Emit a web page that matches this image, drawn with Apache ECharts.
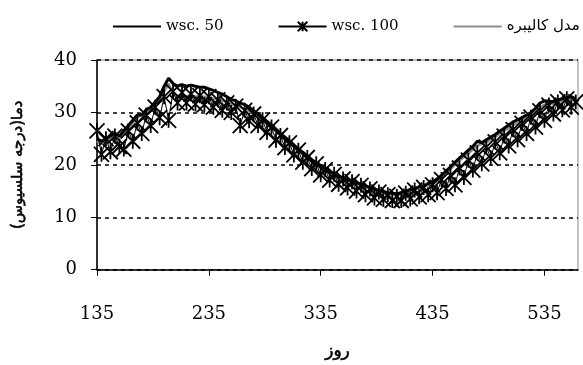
<!DOCTYPE html>
<html>
<head>
<meta charset="utf-8">
<script src="https://cdn.jsdelivr.net/npm/echarts@6/dist/echarts.min.js"></script>
<style>
  html, body { margin: 0; padding: 0; background: #fff; }
  #chart { width: 583px; height: 365px; }
</style>
</head>
<body>
<div id="chart"></div>
<script>
// روز (sampled every 4 days)
const days = [135, 139, 143, 147, 151, 155, 159, 163, 167, 171, 175, 179, 183, 187, 191, 195, 199,
  203, 207, 211, 215, 219, 223, 227, 231, 235, 239, 243, 247, 251, 255, 259, 263, 267, 271, 275,
  279, 283, 287, 291, 295, 299, 303, 307, 311, 315, 319, 323, 327, 331, 335, 339, 343, 347, 351,
  355, 359, 363, 367, 371, 375, 379, 383, 387, 391, 395, 399, 403, 407, 411, 415, 419, 423, 427,
  431, 435, 439, 443, 447, 451, 455, 459, 463, 467, 471, 475, 479, 483, 487, 491, 495, 499, 503,
  507, 511, 515, 519, 523, 527, 531, 535, 539, 543, 547, 551, 555, 559, 563]

const wsc50 = [25.0, 24.5, 25.0, 25.5, 26.0, 25.5, 26.5, 27.5, 28.5, 29.5, 29.5, 30.5, 31.0, 32.0,
  33.0, 35.0, 36.5, 35.5, 35.0, 35.3, 35.0, 35.2, 35.0, 34.8, 34.8, 34.5, 34.2, 33.8, 33.5, 33.0,
  32.5, 32.2, 31.8, 31.5, 31.0, 30.3, 29.8, 29.0, 28.3, 27.6, 26.8, 26.0, 25.3, 24.6, 23.8, 23.0,
  22.4, 21.7, 21.0, 20.4, 19.8, 19.3, 18.8, 18.3, 17.9, 17.5, 17.2, 16.9, 16.6, 16.3, 16.0, 15.7,
  15.4, 15.1, 14.9, 14.7, 14.6, 14.5, 14.7, 15.0, 15.3, 15.5, 15.8, 16.0, 16.4, 16.8, 17.3, 18.0,
  18.8, 19.6, 20.5, 21.3, 22.0, 22.8, 23.5, 24.5, 24.2, 24.8, 25.3, 25.8, 26.4, 27.0, 27.6, 28.2,
  28.6, 29.0, 29.5, 30.0, 30.8, 31.8, 32.2, 32.2, 32.0, 32.4, 32.6, 32.8, 33.0, 32.6]

const wsc100 = [26.5, 22.0, 25.0, 22.5, 25.5, 23.5, 23.0, 26.5, 24.5, 28.0, 26.0, 29.5, 27.5, 31.0,
  29.0, 33.0, 28.5, 34.0, 31.8, 33.8, 31.8, 33.5, 31.6, 33.2, 31.5, 33.0, 31.0, 32.4, 30.4, 31.8,
  30.0, 31.2, 27.5, 30.4, 28.4, 29.7, 27.5, 28.6, 26.2, 27.2, 24.7, 25.6, 23.3, 24.2, 21.9, 22.8,
  20.5, 21.4, 19.3, 20.2, 18.1, 19.1, 17.1, 18.2, 16.3, 17.3, 15.6, 16.8, 15.0, 16.1, 14.3, 15.4,
  13.7, 14.8, 13.4, 14.3, 13.2, 14.0, 13.2, 14.6, 13.5, 15.2, 13.9, 15.7, 14.3, 16.2, 14.7, 17.2,
  15.5, 18.0, 16.2, 19.4, 17.6, 20.9, 19.0, 22.3, 20.2, 23.4, 21.3, 24.4, 22.3, 25.5, 23.6, 26.7,
  24.8, 27.9, 26.0, 29.1, 27.2, 30.3, 28.5, 31.4, 29.7, 32.0, 30.5, 32.6, 31.0, 32.0]

const calib = [24.5, 24.0, 24.5, 25.0, 25.5, 25.0, 26.0, 27.0, 28.0, 29.0, 29.5, 30.0, 30.5, 31.5,
  32.5, 34.0, 35.5, 33.5, 33.0, 33.2, 33.0, 33.4, 33.0, 33.2, 33.0, 32.8, 32.6, 32.5, 32.2, 32.0,
  31.6, 31.3, 31.0, 30.6, 30.2, 29.8, 29.2, 28.6, 28.0, 27.2, 26.5, 25.8, 25.0, 24.3, 23.6, 22.8,
  22.2, 21.5, 20.8, 20.2, 19.6, 19.1, 18.6, 18.1, 17.7, 17.3, 17.0, 16.7, 16.4, 16.1, 15.8, 15.5,
  15.2, 14.9, 14.7, 14.5, 14.4, 14.3, 14.4, 14.7, 15.0, 15.2, 15.5, 15.8, 16.1, 16.5, 17.0, 17.6,
  18.4, 19.2, 20.0, 20.8, 21.5, 22.2, 22.9, 23.6, 24.0, 24.3, 24.8, 25.3, 25.9, 26.5, 27.0, 27.6,
  28.0, 28.5, 29.0, 29.5, 30.3, 31.0, 31.5, 31.8, 31.6, 32.0, 32.2, 32.3, 32.5, 32.0]

const names = ['wsc. 50', 'wsc. 100', 'مدل کالیبره']
const star = 'path://M0,0L10,10M10,0L0,10M5,0L5,10'

function pairs (vals) {
  return days.map((d, i) => [d, vals[i]])
}

// Arabic titles: regular DejaVu Sans shapes properly, a thin border fakes the bold
const arabicTitle = {
  fontFamily: 'DejaVu Sans',
  fontSize: 15,
  color: '#000',
  textBorderColor: '#000',
  textBorderWidth: 0.6
}

let myChart = echarts.init(document.getElementById('chart'))
myChart.setOption({
  animation: false,
  backgroundColor: '#fff',
  legend: {
    data: [
      { name: names[0], itemStyle: { opacity: 0 } },
      { name: names[1] },
      { name: names[2], itemStyle: { opacity: 0 } }
    ],
    left: 107,
    top: 14,
    width: 700,
    itemWidth: 48,
    itemHeight: 12,
    itemGap: 54,
    textStyle: {
      fontFamily: 'DejaVu Serif, DejaVu Sans',
      fontSize: 15,
      color: '#000'
    }
  },
  grid: {
    left: 97,
    right: 5,
    top: 60,
    bottom: 94,
    show: true,
    borderColor: '#888',
    borderWidth: 1
  },
  xAxis: {
    type: 'value',
    min: 135,
    max: 565,
    interval: 100,
    name: 'روز',
    nameLocation: 'middle',
    nameGap: 73,
    nameTextStyle: Object.assign({}, arabicTitle, { fontSize: 17 }),
    axisLine: { lineStyle: { color: '#000', width: 1.5 } },
    axisTick: { length: 6, lineStyle: { color: '#000' } },
    axisLabel: {
      showMaxLabel: false,
      margin: 36,
      fontFamily: 'DejaVu Serif',
      fontSize: 18,
      color: '#000'
    },
    splitLine: { show: false }
  },
  yAxis: {
    type: 'value',
    min: 0,
    max: 40,
    interval: 10,
    name: 'دما(درجه سلسیوس)',
    nameLocation: 'middle',
    nameGap: 71,
    nameTextStyle: arabicTitle,
    axisLine: { show: true, lineStyle: { color: '#000', width: 1.5 } },
    axisTick: { show: true, length: 6, lineStyle: { color: '#000' } },
    axisLabel: {
      margin: 20,
      fontFamily: 'DejaVu Serif',
      fontSize: 18,
      color: '#000'
    },
    splitLine: {
      lineStyle: { color: '#000', type: [4, 4], width: 1.5 }
    }
  },
  series: [{
    name: names[2],
    type: 'line',
    data: pairs(calib),
    symbol: 'none',
    lineStyle: { color: '#8c8c8c', width: 2.5 },
    itemStyle: { color: '#8c8c8c' }
  }, {
    name: names[1],
    type: 'line',
    data: pairs(wsc100),
    symbol: star,
    symbolSize: 15,
    lineStyle: { color: '#000', width: 1 },
    itemStyle: { color: 'none', borderColor: '#000', borderWidth: 1.8 }
  }, {
    name: names[0],
    type: 'line',
    data: pairs(wsc50),
    symbol: 'none',
    lineStyle: { color: '#000', width: 3 },
    itemStyle: { color: '#000' }
  }]
})
</script>
</body>
</html>
